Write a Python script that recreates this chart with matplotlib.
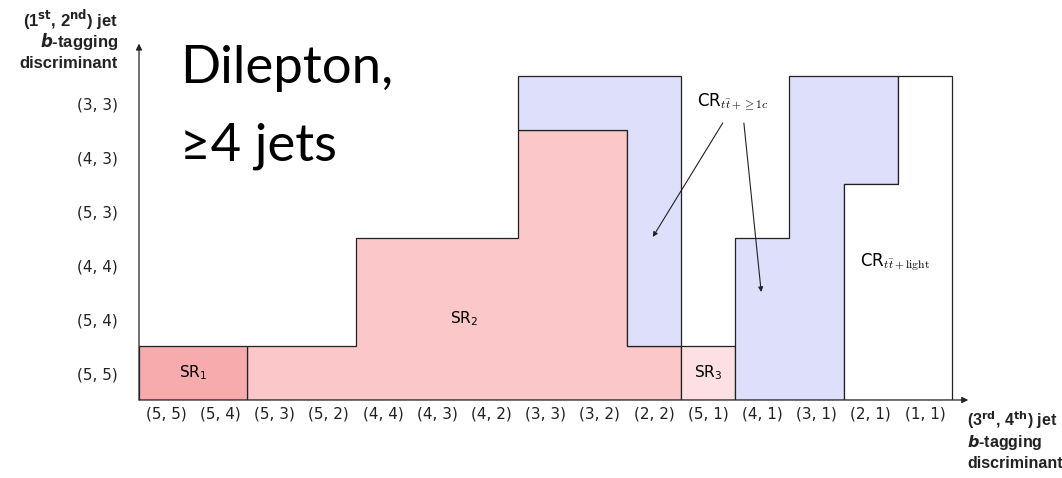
import numpy as np
import matplotlib.pyplot as plt
from matplotlib.patches import Polygon

# Categorías de los ejes (discriminante b-tagging)
x_labels = ['(5, 5)', '(5, 4)', '(5, 3)', '(5, 2)', '(4, 4)', '(4, 3)', '(4, 2)',
            '(3, 3)', '(3, 2)', '(2, 2)', '(5, 1)', '(4, 1)', '(3, 1)', '(2, 1)', '(1, 1)']
y_labels = ['(5, 5)', '(5, 4)', '(4, 4)', '(5, 3)', '(4, 3)', '(3, 3)']

# Regiones: primera columna, límite inferior y superior por columna
sr1_start, sr1_lo, sr1_hi = 0, [0, 0], [1, 1]
sr2_start, sr2_lo, sr2_hi = 2, [0, 0, 0, 0, 0, 0, 0, 0], [1, 1, 3, 3, 3, 5, 5, 1]
sr3_start, sr3_lo, sr3_hi = 10, [0], [1]
crc_a_start, crc_a_lo, crc_a_hi = 7, [5, 5, 1], [6, 6, 6]
crc_b_start, crc_b_lo, crc_b_hi = 11, [0, 0, 4], [3, 6, 6]
crl_start, crl_lo, crl_hi = 13, [0, 0], [4, 6]

c_sr1 = '#f8abad'
c_sr2 = '#fcc7c8'
c_sr3 = '#fde1e2'
c_crc = '#dedffa'
edge = '#222222'

W, H = 1062, 478
fig = plt.figure(figsize=(W / 100, H / 100), dpi=100)

x0, y0 = 139, 400          # origen de los ejes en píxeles
cw, rh = 54.2, 54.0        # ancho de columna, alto de fila
xmax, ymax = 15.3, 6.6
ax = fig.add_axes([x0 / W, (H - y0) / H, xmax * cw / W, ymax * rh / H])
ax.set_xlim(0, xmax)
ax.set_ylim(0, ymax)
for s in ax.spines.values():
    s.set_visible(False)


def region(start, lo, hi):
    # contorno escalonado de una región a partir de sus columnas
    top = []
    bot = []
    for i, (a, b) in enumerate(zip(lo, hi)):
        x = start + i
        top += [(x, b), (x + 1, b)]
        bot += [(x, a), (x + 1, a)]
    return top + bot[::-1]


for start, lo, hi, col in [(sr2_start, sr2_lo, sr2_hi, c_sr2),
                           (sr1_start, sr1_lo, sr1_hi, c_sr1),
                           (sr3_start, sr3_lo, sr3_hi, c_sr3),
                           (crc_a_start, crc_a_lo, crc_a_hi, c_crc),
                           (crc_b_start, crc_b_lo, crc_b_hi, c_crc),
                           (crl_start, crl_lo, crl_hi, 'white')]:
    ax.add_patch(Polygon(region(start, lo, hi), closed=True, facecolor=col,
                         edgecolor=edge, lw=0.9, zorder=2))

# Ejes con flecha
arrow = dict(arrowstyle='-|>', color=edge, lw=0.9, mutation_scale=9, shrinkA=0, shrinkB=0)
ax.annotate('', xy=(xmax, 0), xytext=(0, 0), arrowprops=arrow, zorder=3)
ax.annotate('', xy=(0, ymax), xytext=(0, 0), arrowprops=arrow, zorder=3)

ax.set_xticks(np.arange(len(x_labels)) + 0.5, x_labels)
ax.set_yticks(np.arange(len(y_labels)) + 0.5, y_labels)
ax.tick_params(length=0, labelsize=11, labelcolor='#222222')
ax.tick_params(axis='x', pad=5)
ax.tick_params(axis='y', pad=15)

# Etiquetas de las regiones
ax.text(1.0, 0.5, r'SR$_1$', ha='center', va='center', fontsize=11, zorder=4)
ax.text(6.0, 1.5, r'SR$_2$', ha='center', va='center', fontsize=11, zorder=4)
ax.text(10.5, 0.5, r'SR$_3$', ha='center', va='center', fontsize=11, zorder=4)
ax.text(10.95, 5.52, r'CR$_{t\bar{t}+\geq 1c}$', ha='center', va='center',
        fontsize=12, math_fontfamily='cm', zorder=4)
ax.text(13.95, 2.55, r'CR$_{t\bar{t}+\mathrm{light}}$', ha='center', va='center',
        fontsize=12, math_fontfamily='cm', zorder=4)

thin = dict(arrowstyle='-|>', color=edge, lw=0.8, mutation_scale=7, shrinkA=0, shrinkB=0)
ax.annotate('', xy=(9.48, 3.02), xytext=(10.77, 5.13), arrowprops=thin, zorder=4)
ax.annotate('', xy=(11.48, 2.0), xytext=(11.16, 5.13), arrowprops=thin, zorder=4)

# Títulos de los ejes
bold = dict(fontweight='bold', color='#222222', family=['Liberation Sans', 'DejaVu Sans'])
ytitle = [r'(1$^{\mathbf{st}}$, 2$^{\mathbf{nd}}$) jet', r'$\mathbfit{b}$-tagging', 'discriminant']
for k, line in enumerate(ytitle):
    fig.text(118 / W, 1 - (20 + 22 * k) / H, line, ha='right', va='center',
             fontsize=12, **bold)
xtitle = [r'(3$^{\mathbf{rd}}$, 4$^{\mathbf{th}}$) jet', r'$\mathbfit{b}$-tagging', 'discriminant']
for k, line in enumerate(xtitle):
    fig.text(967 / W, 1 - (420 + 22 * k) / H, line, ha='left', va='center',
             fontsize=11.5, **bold)

# Título grande
big = dict(ha='left', va='baseline', fontsize=38, family=['Lato', 'DejaVu Sans'],
           fontweight='normal', color='black')
fig.text(180 / W, 1 - 83 / H, 'Dilepton,', **big)
fig.text(180 / W, 1 - 160 / H, '≥4 jets', **big)

fig.savefig('out.png', dpi=100)
